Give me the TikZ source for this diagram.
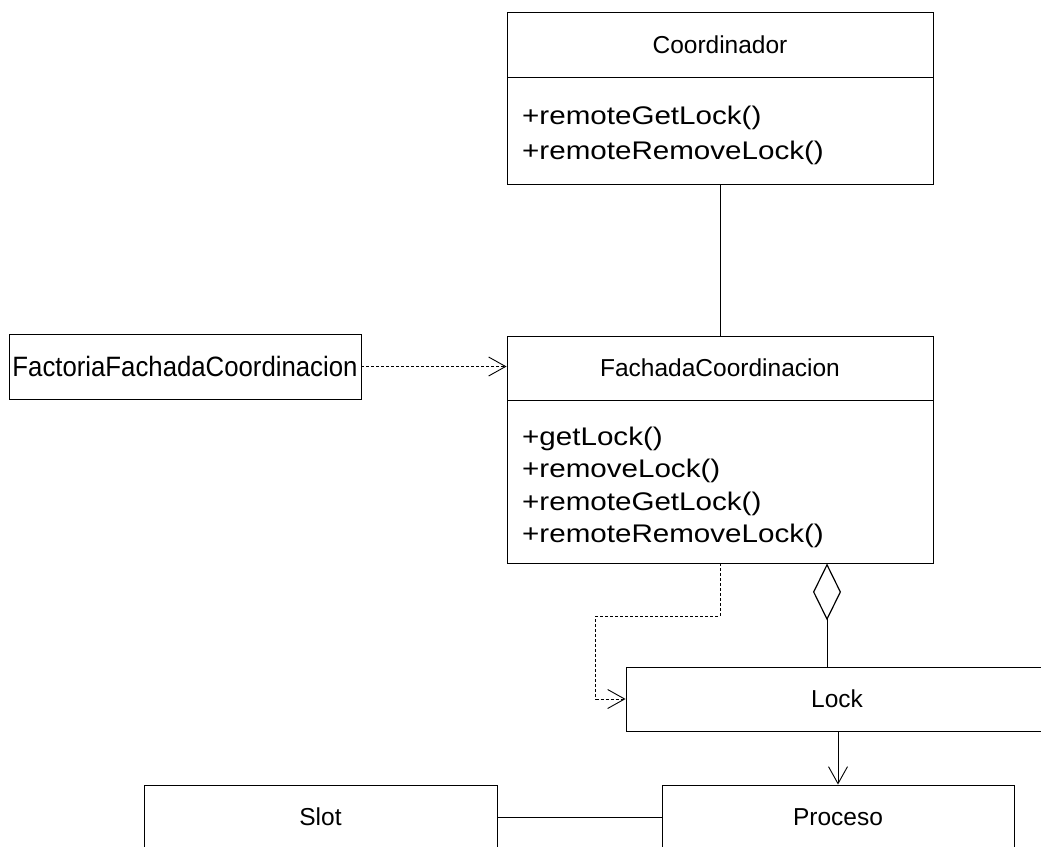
\documentclass[tikz,border=0pt]{standalone}
\usepackage{fontspec}
\setmainfont{Liberation Sans}
\newfontfamily\methfont[FakeStretch=1.16]{Liberation Sans}
\newfontfamily\factfont[FakeStretch=0.92]{Liberation Sans}
\usetikzlibrary{arrows.meta}
\begin{document}
\begin{tikzpicture}[x=1pt,y=-1pt,
  cls/.style={draw, line width=0.9pt, inner sep=0pt, minimum width=#1},
  namefont/.style={font=\fontsize{24.5pt}{28pt}\selectfont},
  meth/.style={anchor=base west, inner sep=0pt, font=\methfont\fontsize{25.5pt}{30pt}\selectfont},
  assoc/.style={line width=0.9pt},
  dep/.style={line width=0.9pt, dash pattern=on 3pt off 2pt, -{Straight Barb[length=17pt,width=19pt,line width=0.9pt]}},
  nav/.style={line width=0.9pt, -{Straight Barb[length=17pt,width=19pt,line width=0.9pt]}},
  agg/.style={line width=0.9pt, {Diamond[open,length=57pt,width=28pt,line width=1.2pt]}-}
]
\useasboundingbox (0,0) rectangle (1041,846);
\clip (0,0) rectangle (1041,846);

% Coordinador
\node[cls=426pt, minimum height=65pt, namefont] (coordN) at (720,44.5) {Coordinador};
\node[cls=426pt, minimum height=107pt] (coordM) at (720,130.5) {};
\node[meth] (cm1) at (522,124) {+remoteGetLock()};
\node[meth] (cm2) at (522,159) {+remoteRemoveLock()};

% FachadaCoordinacion
\node[cls=426pt, minimum height=64pt, namefont] (facN) at (720,368) {FachadaCoordinacion};
\node[cls=426pt, minimum height=163pt] (facM) at (720,481.5) {};
\node[meth] (fm1) at (522,445) {+getLock()};
\node[meth] (fm2) at (522,477.5) {+removeLock()};
\node[meth] (fm3) at (522,510) {+remoteGetLock()};
\node[meth] (fm4) at (522,542.5) {+remoteRemoveLock()};

% FactoriaFachadaCoordinacion
\node[cls=352pt, minimum height=65pt, font=\factfont\fontsize{28pt}{32pt}\selectfont] (fact) at (185,366.5) {FactoriaFachadaCoordinacion};

% Lock, Proceso, Slot
\node[cls=422pt, minimum height=64pt, namefont] (lock) at (837,699) {Lock};
\node[cls=352pt, minimum height=64pt, namefont] (proc) at (838,817) {Proceso};
\node[cls=353pt, minimum height=64pt, namefont] (slot) at (320.5,817) {Slot};

% connectors
\draw[assoc] (coordM.south) -- (facN.north);
\draw[dep] (fact.east) -- (fact.east -| facN.west);
\draw[dep] (facM.south) -- ++(0,53) -| ([xshift=-30pt]lock.west) -- (lock.west);
\draw[agg] ([xshift=107pt]facM.south) -- ([xshift=107pt]facM.south |- lock.north);
\draw[nav] (lock.south -| proc.north) -- (proc.north);
\draw[assoc] (slot.east) -- (proc.west);
\end{tikzpicture}
\end{document}
